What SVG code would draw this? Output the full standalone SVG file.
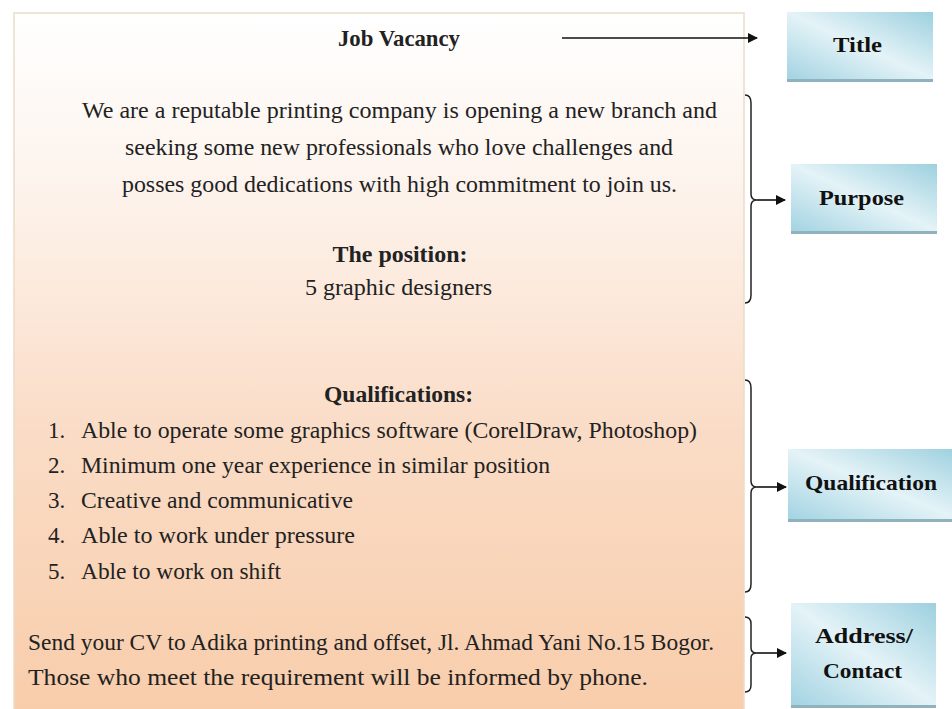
<svg xmlns="http://www.w3.org/2000/svg" width="952" height="709" viewBox="0 0 952 709">
<defs>
<linearGradient id="peach" x1="0" y1="0" x2="0" y2="1">
<stop offset="0" stop-color="#ffffff"/>
<stop offset="0.25" stop-color="#fdf3ec"/>
<stop offset="0.6" stop-color="#fadcc6"/>
<stop offset="1" stop-color="#f8cdab"/>
</linearGradient>
<linearGradient id="blue" x1="0" y1="1" x2="1" y2="0">
<stop offset="0" stop-color="#a3d3e2"/>
<stop offset="0.5" stop-color="#e4f3f7"/>
<stop offset="1" stop-color="#9dd0df"/>
</linearGradient>
<marker id="ah" viewBox="0 0 10 10" refX="9" refY="5" markerWidth="10" markerHeight="10" markerUnits="userSpaceOnUse" orient="auto">
<path d="M0,0 L10,5 L0,10 z" fill="#111"/>
</marker>
</defs>
<style>
.t{font-family:"Liberation Serif","DejaVu Serif",serif;font-size:23px;fill:#222}
.b{font-weight:bold}
.c{text-anchor:middle}
.lbl{font-family:"Liberation Serif","DejaVu Serif",serif;font-size:22px;font-weight:bold;fill:#111;text-anchor:middle}
.box{fill:url(#blue)}
.sh{fill:#8fb2bc}
.br{fill:none;stroke:#222;stroke-width:1.5}
.ar{fill:none;stroke:#111;stroke-width:1.6;marker-end:url(#ah)}
</style>
<rect width="952" height="709" fill="#ffffff"/>
<g id="advert">
<rect x="14" y="13" width="730" height="700" fill="url(#peach)" stroke="#eadcc8" stroke-width="1.5"/>
<text class="t b c" x="399" y="46" textLength="122" lengthAdjust="spacingAndGlyphs">Job Vacancy</text>
<text class="t c" x="399.5" y="118" textLength="635" lengthAdjust="spacingAndGlyphs">We are a reputable printing company is opening a new branch and</text>
<text class="t c" x="399" y="155" textLength="548" lengthAdjust="spacingAndGlyphs">seeking some new professionals who love challenges and</text>
<text class="t c" x="399.5" y="192" textLength="555" lengthAdjust="spacingAndGlyphs">posses good dedications with high commitment to join us.</text>
<text class="t b c" x="400" y="262" textLength="135" lengthAdjust="spacingAndGlyphs">The position:</text>
<text class="t c" x="398.5" y="295" textLength="187" lengthAdjust="spacingAndGlyphs">5 graphic designers</text>
<text class="t b c" x="398.5" y="402" textLength="149" lengthAdjust="spacingAndGlyphs">Qualifications:</text>
<text class="t" x="48" y="438">1.</text>
<text class="t" x="81" y="438" textLength="616" lengthAdjust="spacingAndGlyphs">Able to operate some graphics software (CorelDraw, Photoshop)</text>
<text class="t" x="48" y="473">2.</text>
<text class="t" x="81" y="473" textLength="469" lengthAdjust="spacingAndGlyphs">Minimum one year experience in similar position</text>
<text class="t" x="48" y="508">3.</text>
<text class="t" x="81" y="508" textLength="272" lengthAdjust="spacingAndGlyphs">Creative and communicative</text>
<text class="t" x="48" y="543">4.</text>
<text class="t" x="81" y="543" textLength="274" lengthAdjust="spacingAndGlyphs">Able to work under pressure</text>
<text class="t" x="48" y="579">5.</text>
<text class="t" x="81" y="579" textLength="200" lengthAdjust="spacingAndGlyphs">Able to work on shift</text>
<text class="t" x="28" y="650" textLength="686" lengthAdjust="spacingAndGlyphs">Send your CV to Adika printing and offset, Jl. Ahmad Yani No.15 Bogor.</text>
<text class="t" x="28" y="685" textLength="620" lengthAdjust="spacingAndGlyphs">Those who meet the requirement will be informed by phone.</text>
</g>
<g id="title">
<rect class="sh" x="787" y="14" width="146" height="68"/>
<rect class="box" x="787" y="12" width="146" height="67"/>
<text class="lbl" x="857.5" y="52" textLength="49" lengthAdjust="spacingAndGlyphs">Title</text>
</g>
<g id="purpose">
<rect class="sh" x="791" y="166" width="146" height="68"/>
<rect class="box" x="791" y="164" width="146" height="67"/>
<text class="lbl" x="861.5" y="205" textLength="85" lengthAdjust="spacingAndGlyphs">Purpose</text>
</g>
<g id="qualification">
<rect class="sh" x="788" y="451" width="170" height="71"/>
<rect class="box" x="788" y="449" width="170" height="70"/>
<text class="lbl" x="871" y="490" textLength="132" lengthAdjust="spacingAndGlyphs">Qualification</text>
</g>
<g id="address">
<rect class="sh" x="791" y="605" width="145" height="103"/>
<rect class="box" x="791" y="603" width="145" height="102"/>
<text class="lbl" x="864" y="643" textLength="98" lengthAdjust="spacingAndGlyphs">Address/</text>
<text class="lbl" x="862.5" y="678" textLength="79" lengthAdjust="spacingAndGlyphs">Contact</text>
</g>
<g id="connectors">
<path class="ar" d="M562,38 L757,38"/>
<path class="br" d="M745,95 Q751,95 751,103 L751,194 Q751,200 757,200 Q751,200 751,206 L751,295 Q751,303 745,303"/>
<path class="ar" d="M757,200 L785,200"/>
<path class="br" d="M745,380 Q751,380 751,388 L751,481 Q751,487 757,487 Q751,487 751,493 L751,584 Q751,592 745,592"/>
<path class="ar" d="M757,487 L786,487"/>
<path class="br" d="M745,617 Q751,617 751,624 L751,648 Q751,653 757,653 Q751,653 751,658 L751,685 Q751,692 745,692"/>
<path class="ar" d="M757,653 L786,653"/>
</g>
</svg>
